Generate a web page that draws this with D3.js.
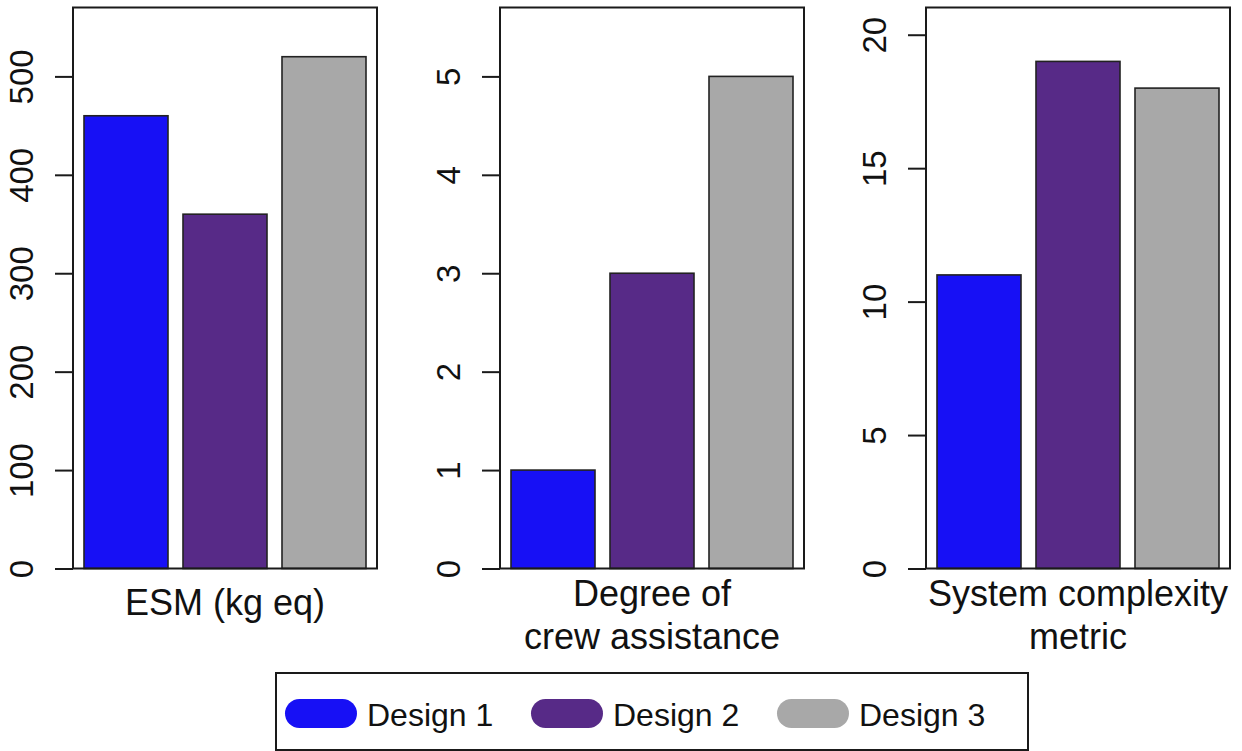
<!DOCTYPE html>
<html>
<head>
<meta charset="utf-8">
<script src="https://cdn.jsdelivr.net/npm/d3@7"></script>
<style>
  body { margin: 0; background: #fff; }
  svg text { font-family: "Liberation Sans", Arial, Helvetica, sans-serif; fill: #111; }
</style>
</head>
<body>
<svg id="chart" width="1242" height="751"></svg>
<script>
// series and labels
const designs = ["Design 1", "Design 2", "Design 3"];
const colors = ["#1710F5", "#572A87", "#A8A8A8"];
const esm = [460, 360, 520];
const crewAssist = [1, 3, 5];
const complexity = [11, 19, 18];

const panelValues = [esm, crewAssist, complexity];
const panelTitles = [["ESM (kg eq)"], ["Degree of", "crew assistance"], ["System complexity", "metric"]];
const panelTicks = [[0, 100, 200, 300, 400, 500], [0, 1, 2, 3, 4, 5], [0, 5, 10, 15, 20]];
const panelMax = [570, 5.70, 21.02];

const svg = d3.select('#chart');

// layout
const panelLeft = [73, 500, 926];
const panelWidth = 304;
const plotTop = 7.5, plotBottom = 568.5;

panelValues.forEach((values, p) => {
    const x0 = panelLeft[p];
    const g = svg.append('g');

    const x = d3.scaleBand()
        .domain(designs)
        .range([x0, x0 + panelWidth])
        .paddingInner(15 / 99)
        .paddingOuter(11 / 99);

    const y = d3.scaleLinear()
        .domain([0, panelMax[p]])
        .range([plotBottom, plotTop]);

    // bars
    g.selectAll('rect.bar')
        .data(values)
        .enter()
        .append('rect')
        .attr('class', 'bar')
        .attr('x', (d, i) => x(designs[i]))
        .attr('width', x.bandwidth())
        .attr('y', d => y(d))
        .attr('height', d => y(0) - y(d))
        .attr('fill', (d, i) => colors[i])
        .attr('stroke', '#222')
        .attr('stroke-width', 1.6);

    // y axis, labels turned to read upward like base R
    const axis = g.append('g')
        .attr('transform', `translate(${x0},0)`)
        .call(d3.axisLeft(y)
            .tickValues(panelTicks[p])
            .tickFormat(d3.format('d'))
            .tickSize(18)
            .tickSizeOuter(0));
    axis.select('.domain').remove();
    axis.selectAll('line').attr('stroke', '#1a1a1a').attr('stroke-width', 2);
    axis.selectAll('text')
        .attr('x', null)
        .attr('dy', '0.35em')
        .attr('transform', 'translate(-52,0) rotate(-90)')
        .attr('text-anchor', 'middle')
        .attr('font-size', 33)
        .attr('font-family', '"Liberation Sans", Arial, sans-serif')
        .attr('fill', '#111');

    // plot box
    g.append('rect')
        .attr('x', x0)
        .attr('y', plotTop)
        .attr('width', panelWidth)
        .attr('height', plotBottom - plotTop)
        .attr('fill', 'none')
        .attr('stroke', '#1a1a1a')
        .attr('stroke-width', 2);

    // x label
    const lines = panelTitles[p];
    const baselines = lines.length === 1 ? [615] : [606, 649];
    lines.forEach((t, k) => {
        g.append('text')
            .attr('x', x0 + panelWidth / 2)
            .attr('y', baselines[k])
            .attr('text-anchor', 'middle')
            .attr('font-size', 36)
            .text(t);
    });
});

// legend
const legend = svg.append('g');
legend.append('rect')
    .attr('x', 276)
    .attr('y', 673)
    .attr('width', 752)
    .attr('height', 77)
    .attr('fill', '#fff')
    .attr('stroke', '#1a1a1a')
    .attr('stroke-width', 2);

const legendX = d3.scalePoint().domain(designs).range([285, 777]);

const items = legend.selectAll('g.item')
    .data(designs)
    .enter()
    .append('g')
    .attr('class', 'item')
    .attr('transform', d => `translate(${legendX(d)},0)`);

items.append('rect')
    .attr('x', 0)
    .attr('y', 699)
    .attr('width', 72)
    .attr('height', 29)
    .attr('rx', 14.5)
    .attr('fill', (d, i) => colors[i]);

items.append('text')
    .attr('x', 82)
    .attr('y', 726)
    .attr('font-size', 32)
    .text(d => d);
</script>
</body>
</html>
